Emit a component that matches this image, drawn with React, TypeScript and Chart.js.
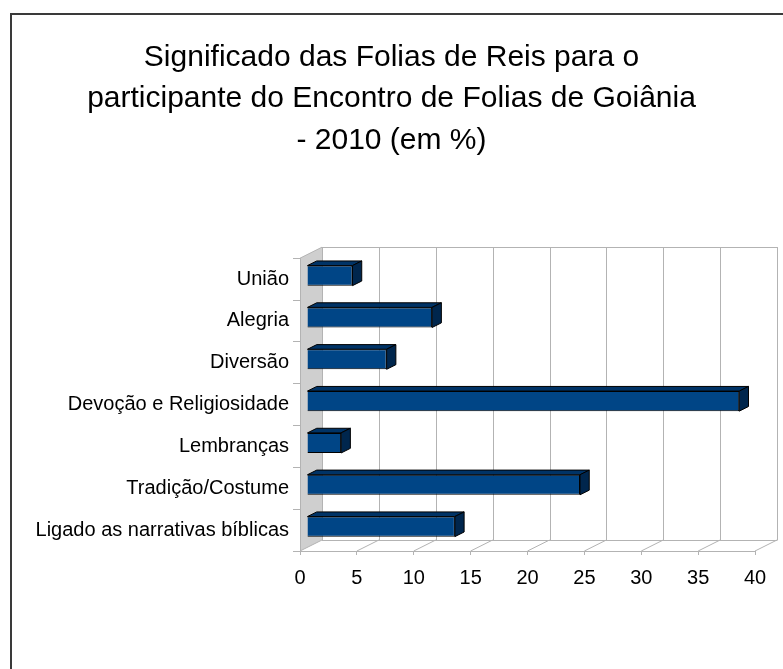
import { useEffect, useRef } from "react";
import { Chart, registerables } from "chart.js";

Chart.register(...registerables);

const categories = [
  "União",
  "Alegria",
  "Diversão",
  "Devoção e Religiosidade",
  "Lembranças",
  "Tradição/Costume",
  "Ligado as narrativas bíblicas",
];
const values = [4, 11, 7, 38, 3, 24, 13];
const titleLines = [
  "Significado das Folias de Reis para o",
  "participante do Encontro de Folias de Goiânia",
  "- 2010 (em %)",
];
const xMin = 0;
const xMax = 40;
const xStep = 5;

const W = 783;
const H = 669;
const DX = 22;
const DY = -11;
const BAR_FRONT = 0.318;
const BAR_DEPTH = 0.42;
const GRID = "#b3b3b3";
const FONT = "'Liberation Sans', Arial, sans-serif";

const px = (v: number) => Math.round(v) + 0.5;

const frame3d = {
  id: "frame3d",
  beforeDraw(chart: any) {
    const ctx = chart.ctx as CanvasRenderingContext2D;
    const { left: L, right: R, top: T, bottom: B } = chart.chartArea;
    const xs = chart.scales.x;
    ctx.save();
    ctx.fillStyle = "#ffffff";
    ctx.fillRect(0, 0, W, H);
    // outer frame
    ctx.strokeStyle = "#3a3a3a";
    ctx.lineWidth = 2;
    ctx.beginPath();
    ctx.moveTo(11, H);
    ctx.lineTo(11, 14);
    ctx.lineTo(W, 14);
    ctx.stroke();

    ctx.lineWidth = 1;
    ctx.strokeStyle = GRID;
    // left wall
    ctx.fillStyle = "#cfcfcf";
    ctx.beginPath();
    ctx.moveTo(L, T);
    ctx.lineTo(L + DX, T + DY);
    ctx.lineTo(L + DX, B + DY);
    ctx.lineTo(L, B);
    ctx.closePath();
    ctx.fill();
    ctx.beginPath();
    ctx.moveTo(L, T);
    ctx.lineTo(L + DX, T + DY);
    ctx.stroke();

    // back wall outline
    ctx.beginPath();
    ctx.moveTo(L + DX, px(T + DY));
    ctx.lineTo(px(R + DX), px(T + DY));
    ctx.lineTo(px(R + DX), px(B + DY));
    ctx.stroke();

    // back wall grid + floor
    const ticks = xs.ticks.map((t: any) => t.value);
    for (const v of ticks) {
      const x = xs.getPixelForValue(v);
      ctx.beginPath();
      ctx.moveTo(px(x + DX), T + DY);
      ctx.lineTo(px(x + DX), B + DY);
      ctx.stroke();
      ctx.beginPath();
      ctx.moveTo(x, B);
      ctx.lineTo(x + DX, B + DY);
      ctx.stroke();
    }
    ctx.beginPath();
    ctx.moveTo(L + DX, px(B + DY));
    ctx.lineTo(R + DX, px(B + DY));
    ctx.stroke();
    ctx.restore();
  },
  beforeDatasetsDraw(chart: any) {
    const ctx = chart.ctx as CanvasRenderingContext2D;
    ctx.save();
    ctx.translate(DX * BAR_FRONT, DY * BAR_FRONT);
  },
  afterDatasetsDraw(chart: any) {
    const ctx = chart.ctx as CanvasRenderingContext2D;
    const bdx = DX * BAR_DEPTH;
    const bdy = DY * BAR_DEPTH;
    const meta = chart.getDatasetMeta(0);
    ctx.lineWidth = 1;
    ctx.strokeStyle = "#000000";
    ctx.lineJoin = "miter";
    for (const el of meta.data) {
      const { x, y, base, height } = el.getProps(["x", "y", "base", "height"], true);
      const top = y - height / 2;
      const bot = y + height / 2;
      // top face
      ctx.fillStyle = "#003366";
      ctx.beginPath();
      ctx.moveTo(base, top);
      ctx.lineTo(base + bdx, top + bdy);
      ctx.lineTo(x + bdx, top + bdy);
      ctx.lineTo(x, top);
      ctx.closePath();
      ctx.fill();
      ctx.stroke();
      // side face
      ctx.fillStyle = "#00264d";
      ctx.beginPath();
      ctx.moveTo(x, top);
      ctx.lineTo(x + bdx, top + bdy);
      ctx.lineTo(x + bdx, bot + bdy);
      ctx.lineTo(x, bot);
      ctx.closePath();
      ctx.fill();
      ctx.stroke();
    }
    ctx.restore();
  },
};

export default function App() {
  const ref = useRef<HTMLCanvasElement | null>(null);
  useEffect(() => {
    if (!ref.current) return;
    const chart = new Chart(ref.current, {
      type: "bar",
      data: {
        labels: categories,
        datasets: [
          {
            data: values,
            backgroundColor: "#004586",
            borderColor: "#000000",
            borderWidth: 1,
            barPercentage: 0.48,
            categoryPercentage: 1,
            clip: false as any,
          },
        ],
      },
      options: {
        indexAxis: "y",
        animation: false,
        responsive: false,
        devicePixelRatio: 1,
        events: [],
        layout: { padding: { left: 28, right: 28, top: 0, bottom: 78 } },
        plugins: {
          legend: { display: false },
          tooltip: { enabled: false },
          title: {
            display: true,
            text: titleLines,
            color: "#000000",
            font: { family: FONT, size: 30, weight: "normal", lineHeight: 1.38 },
            padding: { top: 37, bottom: 97 },
          },
        },
        scales: {
          x: {
            min: xMin,
            max: xMax,
            ticks: {
              stepSize: xStep,
              color: "#000000",
              font: { family: FONT, size: 20 },
              padding: 11,
            },
            grid: { drawOnChartArea: false, drawTicks: true, tickLength: 4, color: GRID },
            border: { color: GRID },
            afterFit: (s: any) => {
              s.height = 40;
            },
          },
          y: {
            ticks: {
              color: "#000000",
              font: { family: FONT, size: 20 },
              padding: 4,
            },
            grid: { drawOnChartArea: false, drawTicks: true, tickLength: 7, color: GRID },
            border: { color: GRID },
            afterFit: (s: any) => {
              s.width = 272;
            },
          },
        },
      },
      plugins: [frame3d],
    });
    return () => chart.destroy();
  }, []);
  return (
    <div style={{ position: "absolute", left: 0, top: 0, width: W, height: H }}>
      <canvas ref={ref} width={W} height={H} style={{ display: "block" }} />
    </div>
  );
}
